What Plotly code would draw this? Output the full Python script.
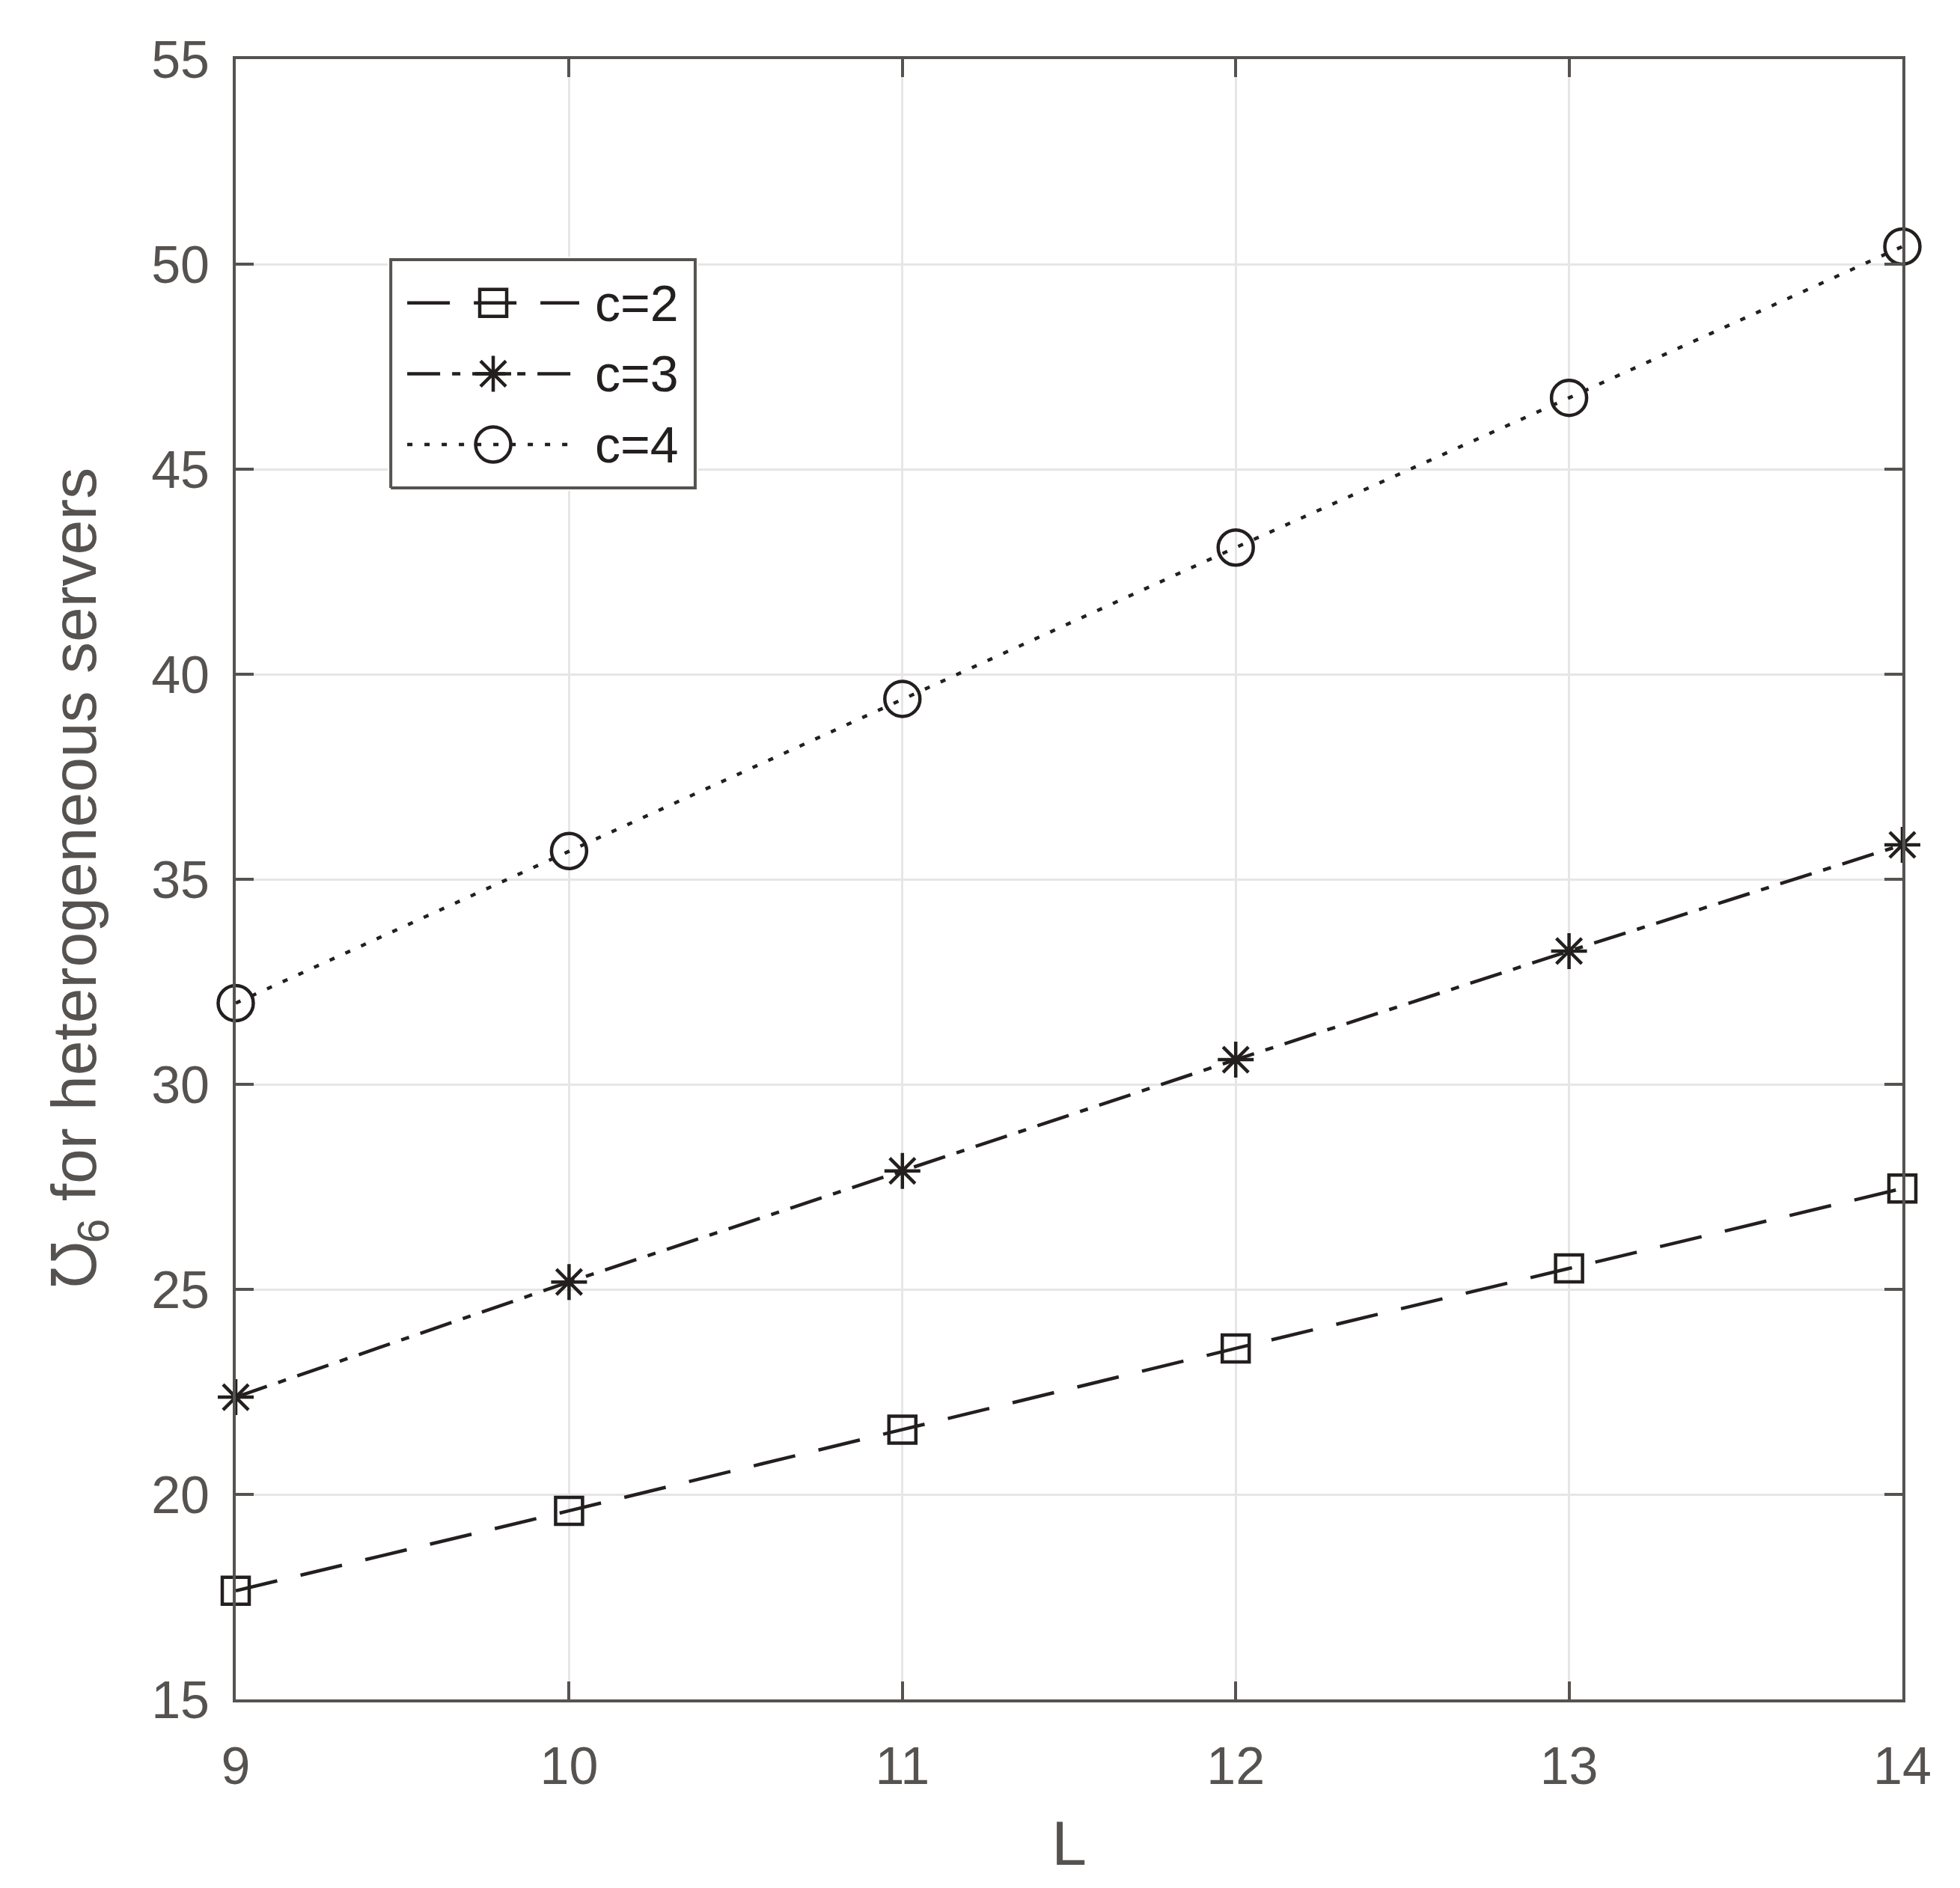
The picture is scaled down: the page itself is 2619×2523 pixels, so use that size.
import plotly.graph_objects as go

# data
L_values = [9, 10, 11, 12, 13, 14]
mho_c2 = [17.65, 19.6, 21.58, 23.56, 25.51, 27.46]
mho_c3 = [22.37, 25.18, 27.89, 30.6, 33.25, 35.84]
mho_c4 = [31.98, 35.69, 39.4, 43.09, 46.74, 50.43]
series_names = ["c=2", "c=3", "c=4"]

INK = "#241f1f"
AXIS = "#555250"
FONT = "Liberation Sans, Arial, Helvetica, sans-serif"

styles = [
    dict(dash="57px,32px", symbol="square-open", size=36),
    dict(dash="44px,16px,11px,16px", symbol="asterisk-open", size=40),
    dict(dash="7px,16px", symbol="circle-open", size=47),
]

fig = go.Figure()

for name, vals, st in zip(series_names, [mho_c2, mho_c3, mho_c4], styles):
    fig.add_trace(go.Scatter(
        x=L_values, y=vals, mode="lines+markers", name=name,
        line=dict(color=INK, width=4.5, dash=st["dash"]),
        marker=dict(symbol=st["symbol"], size=st["size"], color=INK, line=dict(width=4.5, color=INK)),
        cliponaxis=False, showlegend=False,
    ))

# MATLAB-style legend box, drawn in a small inset axis (x2/y2) so the samples keep full length
fig.add_trace(go.Scatter(
    x=[0, 1, 1, 0, 0], y=[0, 0, 1, 1, 0], mode="lines", fill="toself", fillcolor="white",
    line=dict(color=AXIS, width=4), xaxis="x2", yaxis="y2", showlegend=False, hoverinfo="skip",
))
legend_rows = [0.81, 0.5, 0.19]
for name, row, st in zip(series_names, legend_rows, styles):
    fig.add_trace(go.Scatter(
        x=[0.054, 0.3365, 0.619], y=[row, row, row], mode="lines+markers", xaxis="x2", yaxis="y2",
        line=dict(color=INK, width=4.5, dash=st["dash"]),
        marker=dict(symbol=st["symbol"], size=st["size"], color=INK,
                    opacity=[0, 1, 0], line=dict(width=4.5, color=INK)),
        cliponaxis=False, showlegend=False, hoverinfo="skip",
    ))
    fig.add_annotation(x=0.666, y=row, xref="x2", yref="y2", text=name, showarrow=False,
                       xanchor="left", yanchor="middle", font=dict(size=68, color=INK, family=FONT))

axis_common = dict(
    showline=True, linecolor=AXIS, linewidth=4, mirror="ticks",
    ticks="inside", ticklen=24, tickwidth=4, tickcolor=AXIS,
    showgrid=True, gridcolor="#e6e6e6", gridwidth=3, zeroline=False,
    tickfont=dict(size=70, color=AXIS, family=FONT),
)

# page body has an 8px default margin, so the figure is 8px smaller than the window
fig.update_layout(
    width=2611, height=2515,
    margin=dict(l=307, r=77, t=71, b=252),
    plot_bgcolor="white", paper_bgcolor="white",
    font=dict(family=FONT, color=AXIS),
    xaxis=dict(range=[9, 14], dtick=1, ticklabelstandoff=25,
               title=dict(text="L", font=dict(size=84, color=AXIS), standoff=36),
               **axis_common),
    yaxis=dict(range=[15, 55], dtick=5, ticklabelstandoff=17,
               title=dict(text="℧<sub>6</sub> for heterogeneous servers", font=dict(size=84, color=AXIS), standoff=47),
               **axis_common),
    xaxis2=dict(domain=[0.0912, 0.2775], range=[-0.01, 1.01], visible=False, anchor="y2", fixedrange=True),
    yaxis2=dict(domain=[0.7368, 0.8796], range=[-0.013, 1.013], visible=False, anchor="x2", fixedrange=True),
)

fig.write_html("out.html")
